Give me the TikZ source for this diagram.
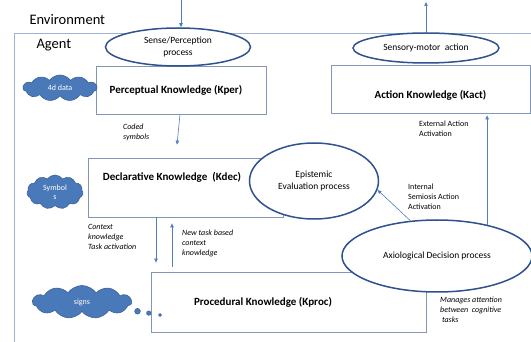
\documentclass[tikz,border=0pt]{standalone}
\usepackage{fontspec}
\setmainfont{Carlito}
\usetikzlibrary{positioning,arrows.meta,shapes.geometric,shapes.symbols,shapes.callouts}
\definecolor{navy}{HTML}{2F528F}
\definecolor{steel}{HTML}{4F7FBF}
\definecolor{frame}{HTML}{8097B8}
\definecolor{agentc}{HTML}{9DB3D3}
\definecolor{puff}{HTML}{4A79B9}
\definecolor{puffD}{HTML}{3A629A}
\tikzset{
  arr/.style={-{Triangle[length=4pt,width=3.5pt]}, line width=0.6pt, color=steel},
  kbox/.style={draw=frame, fill=white, line width=0.8pt},
  ktitle/.style={font=\fontsize{11}{13}\selectfont\bfseries},
  proc/.style={ellipse, draw=navy, fill=white, line width=1.5pt, inner sep=0pt,
               align=center, font=\fontsize{9.5}{11.5}\selectfont},
  note/.style={anchor=west, align=left, inner sep=0pt, font=\fontsize{8}{10}\selectfont},
  inote/.style={note, font=\fontsize{8}{10}\selectfont\itshape},
  puffy/.style={cloud, cloud puffs=11, cloud puff arc=110, cloud ignores aspect,
                draw=puffD, fill=puff, text=white, line width=0.6pt, inner sep=0pt,
                align=center, font=\fontsize{8}{9}\selectfont},
  big/.style={anchor=west, font=\fontsize{14.5}{17}\selectfont},
}
\begin{document}
\begin{tikzpicture}[x=1pt,y=-1pt]
  \useasboundingbox (0,0) rectangle (531,342);
  \node[big] (env) at (26,20) {Environment};
  \draw[agentc, line width=0.8pt] (14,342) -- (14,33) -- (531,33);
  \node[big] (agent) at (33,45) {Agent};

  % knowledge stores
  \node[kbox, minimum width=170pt, minimum height=48pt] (kper) at (181,90) {};
  \node[kbox, minimum width=199pt, minimum height=48pt] (kact) at (430.5,89) {};
  \node[kbox, minimum width=195pt, minimum height=59pt] (kdec) at (185.5,187.5) {};
  \node[kbox, minimum width=275pt, minimum height=60pt] (kproc) at (288.5,302) {};
  \node[ktitle] (kper-t) at ([xshift=-5pt]kper.center) {Perceptual Knowledge (Kper)};
  \node[ktitle] (kact-t) at ([yshift=-6pt]kact.center) {Action Knowledge (Kact)};
  \node[ktitle] (kdec-t) at ([xshift=-13.5pt,yshift=10.5pt]kdec.center) {Declarative Knowledge~ (Kdec)};
  \node[ktitle] (kproc-t) at ([xshift=-25.5pt]kproc.center) {Procedural Knowledge (Kproc)};

  % processes
  \node[proc, minimum width=145pt, minimum height=38pt] (sense) at (178,47) {Sense/Perception\\process};
  \node[proc, minimum width=146pt, minimum height=30pt] (smot) at (426,48) {Sensory-motor\ \ action};
  \node[proc, minimum width=129pt, minimum height=76pt] (epist) at (314,181) {Epistemic\\Evaluation process};
  \node[proc, minimum width=190pt, minimum height=72pt] (axio) at (437,256) {Axiological Decision process};

  % clouds
  \node[puffy, minimum width=74pt, minimum height=26pt] (raw) at (60,88) {4d data};
  \node[puffy, minimum width=56pt, minimum height=34pt] (sym) at (55,192) {Symbol\\s};
  \node[puffy, cloud callout, minimum width=99pt, minimum height=33pt,
        callout absolute pointer={(160,315)}, callout pointer segments=3,
        callout pointer start size=7pt, callout pointer end size=3pt] (sgn) at (82,302) {signs};

  \coordinate (stim) at (181,0);
  \coordinate (resp) at (426,2);
  \draw[arr] (stim) -- (stim |- sense.north);
  \draw[arr] (smot.north) -- (resp);
  \draw[arr] ([xshift=-1pt]kper.south) -- ([xshift=-8.5pt,yshift=13pt]kdec.north);
  \draw[arr] ([xshift=-29.5pt]kdec.south) -- ([xshift=-132.5pt,yshift=9pt]kproc.north);
  \draw[arr] ([xshift=-116.5pt,yshift=5pt]kproc.north) -- ([xshift=-13.5pt,yshift=-6pt]kdec.south);
  \draw[arr] (axio.127) -- (epist.-8);
  \draw[arr, shorten >=2pt] (axio.32) -- (axio.32 |- kact.south);

  \node[inote] (coded) at (123,132) {Coded\\symbols};
  \node[note] (ext) at (419,129) {External Action\\Activation};
  \node[note] (intl) at (408,197) {Internal\\Semiosis Action\\Activation};
  \node[inote] (ctx) at (88,237) {Context\\knowledge\\Task activation};
  \node[inote] (newtask) at (182,243) {New task based\\context\\knowledge};
  \node[inote] (manage) at (440,310) {Manages attention\\between\ \ cognitive\\\ tasks};
\end{tikzpicture}
\end{document}
